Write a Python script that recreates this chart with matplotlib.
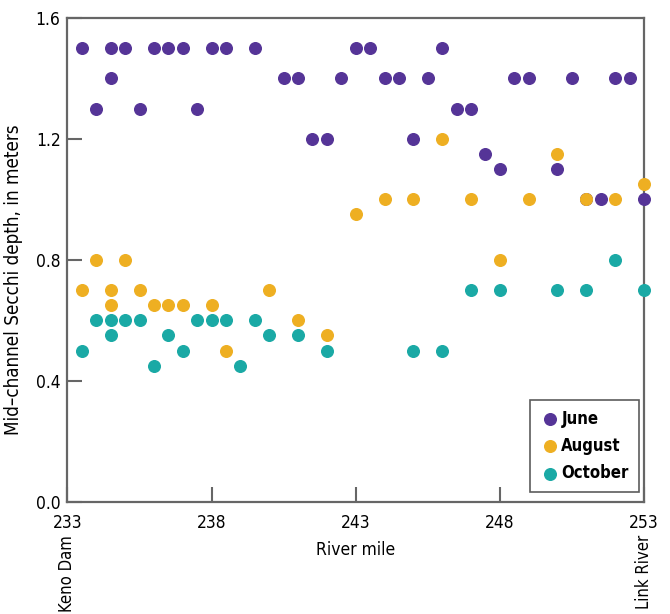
import matplotlib.pyplot as plt

# Secchi depth readings by river mile, one set per sampling month
june_mile = [233.5, 234.5, 235, 236, 236.5, 237, 238, 238.5, 239.5, 243, 243.5, 246,
             234.5, 240.5, 241, 242.5, 244, 244.5, 245.5, 248.5, 249, 250.5, 252, 252.5,
             234, 235.5, 237.5, 246.5, 247,
             241.5, 242, 245,
             247.5, 248, 250,
             251, 251.5, 253]
june_depth = [1.5, 1.5, 1.5, 1.5, 1.5, 1.5, 1.5, 1.5, 1.5, 1.5, 1.5, 1.5,
              1.4, 1.4, 1.4, 1.4, 1.4, 1.4, 1.4, 1.4, 1.4, 1.4, 1.4, 1.4,
              1.3, 1.3, 1.3, 1.3, 1.3,
              1.2, 1.2, 1.2,
              1.15, 1.1, 1.1,
              1.0, 1.0, 1.0]

aug_mile = [234, 235,
            233.5, 234.5, 235.5, 240,
            234.5, 236, 236.5, 237, 238,
            241, 242, 238.5,
            246, 250, 253,
            244, 245, 247, 249, 251, 252,
            243, 248]
aug_depth = [0.8, 0.8,
             0.7, 0.7, 0.7, 0.7,
             0.65, 0.65, 0.65, 0.65, 0.65,
             0.6, 0.55, 0.5,
             1.2, 1.15, 1.05,
             1.0, 1.0, 1.0, 1.0, 1.0, 1.0,
             0.95, 0.8]

oct_mile = [234, 234.5, 235, 235.5, 237.5, 238, 238.5, 239.5,
            234.5, 236.5, 240, 241,
            233.5, 237, 242,
            236, 239,
            252,
            247, 248, 250, 251, 253,
            245, 246]
oct_depth = [0.6, 0.6, 0.6, 0.6, 0.6, 0.6, 0.6, 0.6,
             0.55, 0.55, 0.55, 0.55,
             0.5, 0.5, 0.5,
             0.45, 0.45,
             0.8,
             0.7, 0.7, 0.7, 0.7, 0.7,
             0.5, 0.5]

x_ticks = [233, 238, 243, 248, 253]
y_ticks = [0.0, 0.4, 0.8, 1.2, 1.6]

plt.rcParams['font.family'] = ['DejaVu Sans']
plt.rcParams['font.stretch'] = 'condensed'
plt.rcParams['font.size'] = 12

fig = plt.figure(figsize=(6.7, 6.14), dpi=100)
ax = fig.add_axes([0.1007, 0.1829, 0.8604, 0.7878])

ax.scatter(june_mile, june_depth, s=70, color='#553497', label='June', clip_on=False, zorder=3)
ax.scatter(aug_mile, aug_depth, s=70, color='#EEAF22', label='August', clip_on=False, zorder=3)
ax.scatter(oct_mile, oct_depth, s=70, color='#1AA9A5', label='October', clip_on=False, zorder=3)

ax.set_xlim(233, 253)
ax.set_ylim(0, 1.6)
ax.set_xticks(x_ticks)
ax.set_yticks(y_ticks)
ax.set_yticklabels([f'{v:.1f}' for v in y_ticks])

gray = '#666666'
for sp in ax.spines.values():
    sp.set_color(gray)
    sp.set_linewidth(1.6)
ax.tick_params(direction='in', length=11, width=1.5, color=gray, labelsize=12.5)
ax.tick_params(axis='x', pad=9)
ax.tick_params(axis='y', pad=5)

ax.set_xlabel('River mile', fontsize=12.5, labelpad=6)
ax.set_ylabel('Mid–channel Secchi depth, in meters', fontsize=13.5)
ax.yaxis.set_label_coords(-0.078, 0.46)

# end-point place names hang below the first and last mile ticks
ax.text(233, -0.11, 'Keno Dam', rotation=90, ha='center', va='top', fontsize=12,
        transform=ax.transData)
ax.text(253, -0.11, 'Link River', rotation=90, ha='center', va='top', fontsize=12,
        transform=ax.transData)

leg = ax.legend(loc='lower right', bbox_to_anchor=(0.991, 0.02), borderaxespad=0,
                frameon=True, fancybox=False, edgecolor='#333333', handletextpad=0.1,
                borderpad=0.6, labelspacing=0.55, handlelength=1.2,
                prop={'weight': 'bold', 'size': 12, 'stretch': 'condensed'})
leg.get_frame().set_linewidth(1.2)

fig.savefig('out.png', dpi=100)
